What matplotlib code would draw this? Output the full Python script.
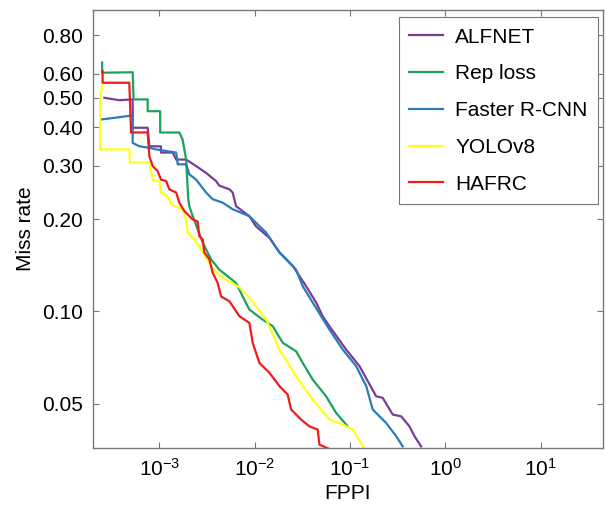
import numpy as np
import matplotlib
matplotlib.use("Agg")
import matplotlib.pyplot as plt
from matplotlib.ticker import FixedLocator, FixedFormatter, NullLocator

plt.rcParams['font.family'] = ['Liberation Sans', 'DejaVu Sans']
plt.rcParams['mathtext.default'] = 'regular'

# miss rate vs FPPI curves
alfnet_fppi = [2.65e-4, 3.80e-4, 5.25e-4, 5.25e-4, 7.54e-4, 7.85e-4, 1.04e-3, 1.04e-3, 1.38e-3,
               1.50e-3, 1.91e-3, 2.43e-3, 3.09e-3, 3.94e-3, 4.26e-3, 5.43e-3, 5.87e-3, 6.38e-3,
               8.79e-3, 1.03e-2, 1.43e-2, 1.82e-2, 2.51e-2, 3.46e-2, 4.41e-2, 5.17e-2, 6.08e-2,
               9.10e-2, 0.126, 0.188, 0.220, 0.281, 0.344, 0.420, 0.474, 0.557]
alfnet_mr = [0.500, 0.491, 0.494, 0.399, 0.399, 0.347, 0.347, 0.331, 0.331,
             0.314, 0.314, 0.299, 0.284, 0.267, 0.258, 0.251, 0.245, 0.221,
             0.205, 0.190, 0.174, 0.156, 0.141, 0.121, 0.107, 0.0965, 0.0895,
             0.0751, 0.0662, 0.0528, 0.0522, 0.0460, 0.0454, 0.0421, 0.0391, 0.0362]

reploss_fppi = [2.51e-4, 2.51e-4, 5.25e-4, 5.37e-4, 7.54e-4, 7.54e-4, 1.02e-3, 1.02e-3, 1.62e-3,
                1.75e-3, 1.91e-3, 2.01e-3, 2.06e-3, 2.24e-3, 2.85e-3, 3.49e-3, 4.26e-3, 6.38e-3,
                7.48e-3, 8.79e-3, 1.21e-2, 1.55e-2, 1.97e-2, 2.72e-2, 3.19e-2, 4.06e-2, 5.61e-2,
                7.15e-2, 9.46e-2]
reploss_mr = [0.652, 0.604, 0.606, 0.494, 0.494, 0.452, 0.452, 0.385, 0.385,
              0.366, 0.314, 0.233, 0.221, 0.205, 0.168, 0.148, 0.137, 0.124,
              0.112, 0.1015, 0.0941, 0.0895, 0.0790, 0.0741, 0.0679, 0.0599, 0.0528,
              0.0466, 0.0421]

frcnn_fppi = [2.51e-4, 3.80e-4, 5.25e-4, 5.25e-4, 6.17e-4, 7.85e-4, 9.23e-4, 1.50e-3, 1.56e-3,
              1.91e-3, 2.06e-3, 2.43e-3, 3.09e-3, 3.62e-3, 4.61e-3, 5.87e-3, 8.79e-3, 1.32e-2,
              1.82e-2, 2.72e-2, 3.19e-2, 4.06e-2, 4.98e-2, 6.08e-2, 8.38e-2, 0.116, 0.148,
              0.173, 0.239, 0.305, 0.357]
frcnn_mr = [0.425, 0.432, 0.438, 0.356, 0.347, 0.343, 0.339, 0.331, 0.303,
            0.303, 0.281, 0.270, 0.245, 0.233, 0.227, 0.216, 0.205, 0.181,
            0.156, 0.137, 0.121, 0.107, 0.0965, 0.0873, 0.0751, 0.0662, 0.0570,
            0.0478, 0.0432, 0.0391, 0.0362]

yolo_fppi = [2.51e-4, 2.39e-4, 2.39e-4, 4.84e-4, 4.92e-4, 7.85e-4, 8.51e-4, 1.00e-3, 1.04e-3,
             1.22e-3, 1.33e-3, 1.75e-3, 1.91e-3, 1.98e-3, 2.33e-3, 2.74e-3, 3.35e-3, 3.94e-3,
             5.01e-3, 6.91e-3, 8.79e-3, 1.32e-2, 1.82e-2, 2.72e-2, 4.06e-2, 6.08e-2, 8.38e-2,
             0.107, 0.142]
yolo_mr = [0.549, 0.494, 0.339, 0.339, 0.307, 0.307, 0.270, 0.267, 0.245,
           0.238, 0.224, 0.216, 0.200, 0.181, 0.172, 0.160, 0.144, 0.134,
           0.127, 0.120, 0.111, 0.0941, 0.0751, 0.0614, 0.0515, 0.0443, 0.0427,
           0.0411, 0.0355]

hafrc_fppi = [2.54e-4, 2.54e-4, 4.84e-4, 5.05e-4, 7.54e-4, 7.85e-4, 8.51e-4, 9.60e-4, 1.04e-3,
              1.18e-3, 1.27e-3, 1.50e-3, 1.62e-3, 1.83e-3, 2.24e-3, 2.52e-3, 2.63e-3, 2.85e-3,
              2.96e-3, 3.35e-3, 3.62e-3, 4.09e-3, 4.44e-3, 5.43e-3, 6.91e-3, 8.79e-3, 9.53e-3,
              1.12e-2, 1.43e-2, 1.82e-2, 2.22e-2, 2.41e-2, 3.07e-2, 3.75e-2, 4.58e-2, 4.78e-2,
              6.08e-2]
hafrc_mr = [0.611, 0.560, 0.560, 0.385, 0.385, 0.322, 0.299, 0.288, 0.270,
            0.267, 0.251, 0.245, 0.227, 0.213, 0.200, 0.197, 0.176, 0.172,
            0.156, 0.148, 0.134, 0.124, 0.112, 0.108, 0.0965, 0.0918, 0.0790,
            0.0679, 0.0630, 0.0570, 0.0535, 0.0478, 0.0443, 0.0421, 0.0411, 0.0367,
            0.0355]

names = ["ALFNET", "Rep loss", "Faster R-CNN", "YOLOv8", "HAFRC"]
colors = ["#7b3c98", "#1aa35a", "#2c7bb6", "#ffff1a", "#f01c1c"]
series = [(alfnet_fppi, alfnet_mr), (reploss_fppi, reploss_mr), (frcnn_fppi, frcnn_mr),
          (yolo_fppi, yolo_mr), (hafrc_fppi, hafrc_mr)]

ytick_vals = [0.05, 0.10, 0.20, 0.30, 0.40, 0.50, 0.60, 0.80]

fig = plt.figure(figsize=(6.06, 5.16), dpi=100)
ax = fig.add_axes([0.153, 0.132, 0.842, 0.849])

for name, col, (fx, mr) in zip(names, colors, series):
    ax.plot(fx, mr, color=col, lw=1.6, label=name)

ax.set_xscale("log")
ax.set_yscale("log")
ax.set_xlim(2.0e-4, 45)
ax.set_ylim(0.0358, 0.97)
ax.xaxis.set_major_locator(FixedLocator([1e-3, 1e-2, 1e-1, 1e0, 1e1]))
ax.xaxis.set_major_formatter(FixedFormatter([r"$10^{-3}$", r"$10^{-2}$", r"$10^{-1}$",
                                             r"$10^{0}$", r"$10^{1}$"]))
ax.yaxis.set_major_locator(FixedLocator(ytick_vals))
ax.yaxis.set_major_formatter(FixedFormatter(["%.2f" % v for v in ytick_vals]))
ax.xaxis.set_minor_locator(NullLocator())
ax.yaxis.set_minor_locator(NullLocator())
ax.tick_params(direction="in", top=True, right=True, length=4, width=0.8,
               color="#777777", labelsize=15, pad=7)
for sp in ax.spines.values():
    sp.set_color("#777777")
    sp.set_linewidth(1.0)

ax.set_xlabel("FPPI", fontsize=15, labelpad=3)
ax.set_ylabel("Miss rate", fontsize=15, labelpad=5)

leg = ax.legend(loc="upper right", bbox_to_anchor=(0.99, 0.983), fontsize=15,
                fancybox=False, edgecolor="#777777", framealpha=1,
                handlelength=1.6, handletextpad=0.6, labelspacing=0.85,
                borderpad=0.5, borderaxespad=0)
leg.get_frame().set_linewidth(0.8)

fig.savefig("out.png", dpi=100)
